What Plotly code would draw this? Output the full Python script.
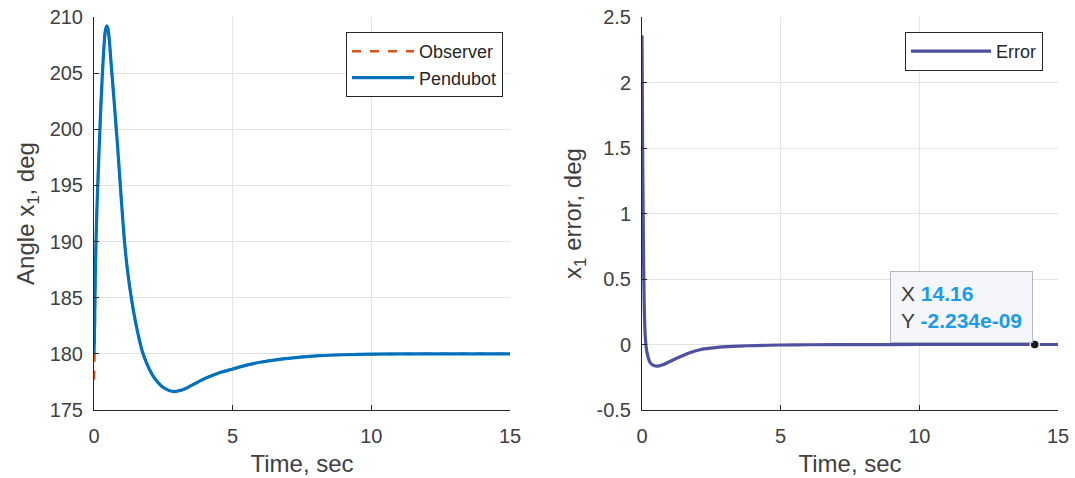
import plotly.graph_objects as go

# ---- data ----
t_pend = [0, 0.02, 0.05, 0.1, 0.15, 0.2, 0.25, 0.3, 0.35, 0.4, 0.45, 0.5, 0.55, 0.6, 0.7, 0.75,
          0.85, 0.98, 1.1, 1.2, 1.35, 1.5, 1.65, 1.77, 2.0, 2.19, 2.5, 2.85, 3.2, 3.6, 4.0, 4.5,
          5.0, 5.5, 6.1, 7.0, 7.9, 9.0, 10.0, 12.0, 15.0]
angle_pend = [180.0, 182.5, 187.5, 192.5, 196.0, 199.2, 202.2, 204.8, 207.0, 208.6, 209.2, 209.0,
              208.0, 206.4, 203.3, 201.7, 198.5, 193.9, 190.0, 187.6, 184.9, 182.8, 181.1, 180.0,
              178.6, 177.8, 177.0, 176.65, 176.8, 177.3, 177.8, 178.3, 178.65, 179.0, 179.3,
              179.6, 179.8, 179.92, 179.97, 180.0, 180.0]

t_obs = [0, 0.015, 0.03, 0.05, 0.1, 0.15, 0.2, 0.25, 0.3, 0.35, 0.4, 0.45, 0.5, 0.55, 0.6, 0.7,
         0.75, 0.85, 0.98, 1.1, 1.2, 1.35, 1.5, 1.65, 1.77, 2.0, 2.19, 2.5, 2.85, 3.2, 3.6, 4.0,
         4.5, 5.0, 5.5, 6.1, 7.0, 7.9, 9.0, 10.0, 12.0, 15.0]
angle_obs = [177.7, 179.3, 181.5, 187.5, 192.5, 196.0, 199.2, 202.2, 204.8, 207.0, 208.6, 209.2,
             209.0, 208.0, 206.4, 203.3, 201.7, 198.5, 193.9, 190.0, 187.6, 184.9, 182.8, 181.1,
             180.0, 178.6, 177.8, 177.0, 176.65, 176.8, 177.3, 177.8, 178.3, 178.65, 179.0,
             179.3, 179.6, 179.8, 179.92, 179.97, 180.0, 180.0]

t_err = [0, 0.02, 0.05, 0.08, 0.12, 0.18, 0.3, 0.45, 0.58, 0.75, 1.0, 1.37, 1.7, 2.09, 2.5, 2.9,
         3.5, 4.1, 5.0, 6.0, 8.0, 10.0, 12.0, 14.16, 15.0]
err = [2.36, 1.6, 0.8, 0.3, 0.05, -0.06, -0.14, -0.163, -0.165, -0.155, -0.13, -0.094, -0.065,
       -0.04, -0.027, -0.018, -0.012, -0.008, -0.004, -0.002, -0.0005, 0.0, 0.0, -2.234e-09, 0.0]

tip_x = [14.16]
tip_y = [-2.234e-09]

x_ticks = [0, 5, 10, 15]
y1_ticks = [175, 180, 185, 190, 195, 200, 205, 210]
y2_ticks = [-0.5, 0, 0.5, 1, 1.5, 2, 2.5]
y2_ticklabels = ["-0.5", "0", "0.5", "1", "1.5", "2", "2.5"]

# ---- styling ----
FONT = "Liberation Sans, Arial, sans-serif"
TXT = "#404040"
GRID = "#e3e3e3"
AXC = "#262626"
ORANGE = "#D95319"
BLUE = "#0072BD"
ERRC = "#4E519E"

fig = go.Figure()
fig.add_trace(go.Scatter(x=t_obs, y=angle_obs, mode="lines", name="Observer",
                         line=dict(color=ORANGE, width=2.5, dash="dash", shape="spline", smoothing=0.8),
                         xaxis="x", yaxis="y", legend="legend"))
fig.add_trace(go.Scatter(x=t_pend, y=angle_pend, mode="lines", name="Pendubot",
                         line=dict(color=BLUE, width=3.2, shape="spline", smoothing=0.8),
                         xaxis="x", yaxis="y", legend="legend"))
fig.add_trace(go.Scatter(x=t_err, y=err, mode="lines", name="Error",
                         line=dict(color=ERRC, width=3.2, shape="spline", smoothing=0.8),
                         xaxis="x2", yaxis="y2", legend="legend2"))
fig.add_trace(go.Scatter(x=tip_x, y=tip_y, mode="markers", showlegend=False,
                         marker=dict(color="#1a1a1a", size=9, line=dict(color="#f0f0f0", width=1.5)),
                         xaxis="x2", yaxis="y2", hoverinfo="skip"))

W, H = 1075, 478
ML, MR, MT, MB = 94, 17, 17, 68
PW = W - ML - MR
PH = H - MT - MB

def dx(px):
    return (px - ML) / PW

def py(pyy):
    return 1 - (pyy - MT) / PH

tick_font = dict(family=FONT, size=20, color=TXT)
title_font = dict(family=FONT, size=24, color=TXT)
axis_common = dict(showgrid=True, gridcolor=GRID, gridwidth=1, zeroline=False,
                   showline=True, linecolor=AXC, linewidth=1, ticks="inside", ticklen=5,
                   tickcolor=AXC, tickfont=tick_font, mirror=False, automargin=False)

fig.update_layout(
    width=W, height=H, margin=dict(l=ML, r=MR, t=MT, b=MB),
    paper_bgcolor="white", plot_bgcolor="white",
    font=dict(family=FONT, color=TXT),
    xaxis=dict(domain=[0, dx(510)], range=[0, 15], tickvals=x_ticks, anchor="y",
               ticklabelstandoff=8,
               title=dict(text="Time, sec", font=title_font, standoff=9),
               **axis_common),
    yaxis=dict(domain=[0, 1], range=[175, 210], tickvals=y1_ticks, anchor="x",
               ticklabelstandoff=6,
               title=dict(text="Angle x<sub>1</sub>, deg", font=title_font, standoff=8),
               **axis_common),
    xaxis2=dict(domain=[dx(642), 1], range=[0, 15], tickvals=x_ticks, anchor="y2",
                ticklabelstandoff=8,
                title=dict(text="Time, sec", font=title_font, standoff=9),
                **axis_common),
    yaxis2=dict(domain=[0, 1], range=[-0.5, 2.5], tickvals=y2_ticks, ticktext=y2_ticklabels,
                anchor="x2", ticklabelstandoff=6,
                title=dict(text="x<sub>1</sub> error, deg", font=title_font, standoff=8),
                **axis_common),
    legend=dict(x=dx(503), y=py(32), xref="paper", yref="paper",
                xanchor="right", yanchor="top", bgcolor="white",
                bordercolor="#262626", borderwidth=1, itemwidth=62,
                font=dict(family=FONT, size=18, color="#262626"), tracegroupgap=0),
    legend2=dict(x=dx(1043), y=py(32), xref="paper", yref="paper",
                 xanchor="right", yanchor="top", bgcolor="white",
                 bordercolor="#262626", borderwidth=1, itemwidth=80,
                 font=dict(family=FONT, size=18, color="#262626")),
    showlegend=True,
)

fig.add_annotation(
    x=14.16, y=0, xref="x2", yref="y2", showarrow=False,
    xanchor="right", yanchor="bottom", xshift=-2, yshift=2, align="left",
    text=("X <b><span style='color:#1E9BE6'>14.16</span></b><br>"
          "Y <b><span style='color:#1E9BE6'>-2.234e-09</span></b>"),
    font=dict(family=FONT, size=21, color="#404040"),
    bgcolor="rgba(244,246,250,0.95)", bordercolor="#b0b6c2", borderwidth=1, borderpad=10,
)

fig.write_html("out.html")
